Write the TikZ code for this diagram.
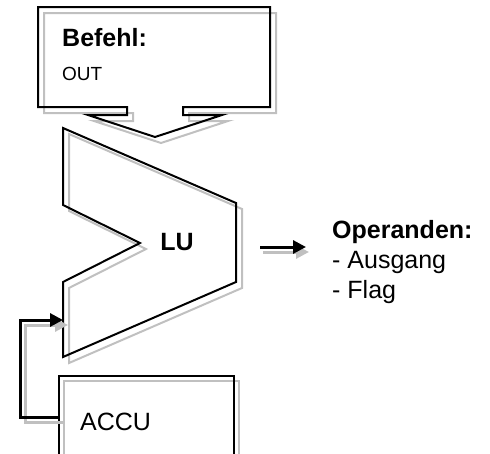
\documentclass[tikz,border=0pt]{standalone}
\usepackage{fontspec}
\setmainfont{Liberation Sans}
\usetikzlibrary{arrows.meta}

\definecolor{shade}{HTML}{C0C0C0}

\tikzset{
  outline/.style={draw=black, line width=2pt},
  shadowline/.style={draw=shade, line width=2pt, shift={(6,6)}},
  feed/.style={draw=black, line width=3pt, -{Triangle[length=13pt,width=13pt]}},
  feedshade/.style={draw=shade, line width=3pt, -{Triangle[length=13pt,width=13pt]}},
  txt/.style={inner sep=0pt, anchor=base west, font=\fontsize{25}{30}\selectfont},
  btxt/.style={txt, font=\fontsize{25}{30}\selectfont\bfseries},
}

\begin{document}
\begin{tikzpicture}[x=1pt,y=-1pt]
    \useasboundingbox (0,0) rectangle (490,453);
    \clip (0,0) rectangle (490,453);

    % instruction box, opening into the funnel
    \foreach \s in {shadowline,outline}
        \draw[\s] (38,7) -- (270,7) -- (270,107) -- (183,107) -- (183,115) -- (222,115) -- (155,137)
            -- (88,115) -- (127,115) -- (127,107) -- (38,107) -- cycle;
    \node[btxt] (befehl) at (62,46) {Befehl:};
    \node[txt, font=\fontsize{19}{23}\selectfont] (cmd) at (62,80) {OUT};

    % logic unit
    \foreach \s in {shadowline,outline}
        \draw[\s] (63,128) -- (236,203) -- (236,282) -- (63,357) -- (63,282) -- (140,243) -- (63,205) -- cycle;
    \node[inner sep=0pt, font=\fontsize{25}{30}\selectfont\bfseries] (lu) at (177,242) {LU};
    \coordinate (luin) at (63,320);
    \coordinate (luout) at (260,247);
    \coordinate (opsin) at (306,247);

    % accumulator
    \draw[shadowline] (58,375) rectangle (233,458);
    \node[outline, minimum width=175pt, minimum height=83pt, anchor=north west] (accu) at (58,375) {};
    \node[txt] (accutext) at (80,430) {ACCU};

    % operands
    \node[btxt] (ops) at (332,238) {Operanden:};
    \node[txt] (ausgang) at (332,268) {- Ausgang};
    \node[txt] (flag) at (332,298) {- Flag};

    % connectors
    \draw[feedshade] ([shift={(5,5)}]accu.west) -- ++(-38,0) |- ([shift={(5,5)}]luin);
    \draw[feed] (accu.west) -- ++(-38,0) |- (luin);
    \draw[feedshade] ([shift={(3,5)}]luout) -- ([shift={(3,5)}]opsin);
    \draw[feed] (luout) -- (opsin);
\end{tikzpicture}
\end{document}
